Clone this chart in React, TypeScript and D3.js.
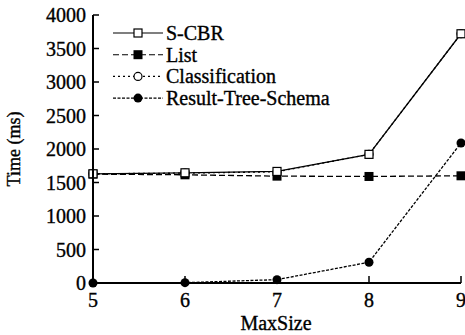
import React from "react";
import * as d3 from "d3";

const maxSizes = [5, 6, 7, 8, 9];
const sCBR = [1630, 1645, 1665, 1920, 3720];
const list = [1625, 1615, 1595, 1590, 1600];
const classification = [1630, 1640, 1660, 1920, 3720];
const resultTree = [0, 5, 50, 310, 2090];
const yTicks = [0, 500, 1000, 1500, 2000, 2500, 3000, 3500, 4000];
const seriesNames = ["S-CBR", "List", "Classification", "Result-Tree-Schema"];

const W = 465, H = 335;
const x = d3.scaleLinear().domain([5, 9]).range([93, 461]);
const y = d3.scaleLinear().domain([0, 4000]).range([283, 15]);
const font = "'Liberation Serif', 'Times New Roman', serif";
const textStyle = { stroke: "#000", strokeWidth: 0.35 };

type S = { name: string; values: number[]; dash: string; marker: string };
const series: S[] = [
  { name: seriesNames[1], values: list, dash: "6,3", marker: "fsquare" },
  { name: seriesNames[3], values: resultTree, dash: "3,1.5", marker: "fcircle" },
  { name: seriesNames[2], values: classification, dash: "2,3", marker: "ocircle" },
  { name: seriesNames[0], values: sCBR, dash: "", marker: "osquare" },
];

function Marker({ kind, cx, cy }: { kind: string; cx: number; cy: number }) {
  if (kind === "fsquare") return <rect x={cx - 4.5} y={cy - 4.5} width={9} height={9} fill="#000" />;
  if (kind === "osquare") return <rect x={cx - 4} y={cy - 4} width={8} height={8} fill="#fff" stroke="#000" strokeWidth={1.2} />;
  if (kind === "fcircle") return <circle cx={cx} cy={cy} r={4.5} fill="#000" />;
  return <circle cx={cx} cy={cy} r={4} fill="#fff" stroke="#000" strokeWidth={1.2} />;
}

export default function App() {
  const line = d3.line<number>().x((_, i) => x(maxSizes[i])).y((v) => y(v));
  const legendOrder = [3, 0, 2, 1];
  return (
    <svg width={W} height={H} style={{ position: "absolute", left: 0, top: 0, background: "#fff" }}>
      {series.map((s) => (
        <g key={s.name}>
          <path d={line(s.values) || ""} fill="none" stroke="#000" strokeWidth={1.3} strokeDasharray={s.dash} />
          {s.values.map((v, i) => (
            <Marker key={i} kind={s.marker} cx={x(maxSizes[i])} cy={y(v)} />
          ))}
        </g>
      ))}
      <line x1={x(5)} x2={x(5)} y1={y(4000)} y2={y(0)} stroke="#000" strokeWidth={2} />
      <line x1={x(5)} x2={x(9)} y1={y(0)} y2={y(0)} stroke="#000" strokeWidth={2.2} />
      {yTicks.map((t) => (
        <g key={t}>
          <line x1={x(5)} x2={x(5) + 6} y1={y(t)} y2={y(t)} stroke="#000" strokeWidth={1.5} />
          <text x={86} y={y(t)} dy="0.35em" textAnchor="end" fontFamily={font} fontSize={20} style={textStyle}>{t}</text>
        </g>
      ))}
      {maxSizes.map((m) => (
        <g key={m}>
          <line x1={x(m)} x2={x(m)} y1={y(0)} y2={y(0) - 7} stroke="#000" strokeWidth={1.5} />
          <text x={x(m)} y={307} textAnchor="middle" fontFamily={font} fontSize={20} style={textStyle}>{m}</text>
        </g>
      ))}
      <text x={276} y={330} textAnchor="middle" fontFamily={font} fontSize={20} style={textStyle}>MaxSize</text>
      <text transform="translate(20,149) rotate(-90)" textAnchor="middle" fontFamily={font} fontSize={18} style={textStyle}>Time (ms)</text>
      {legendOrder.map((si, row) => {
        const s = series[si];
        const ly = 33 + row * 21.7;
        return (
          <g key={s.name}>
            <line x1={113} x2={163} y1={ly} y2={ly} stroke="#000" strokeWidth={1.1} strokeDasharray={s.dash} />
            <Marker kind={s.marker} cx={138} cy={ly} />
            <text x={166} y={ly} dy="0.35em" fontFamily={font} fontSize={20} style={textStyle}>{s.name}</text>
          </g>
        );
      })}
    </svg>
  );
}
